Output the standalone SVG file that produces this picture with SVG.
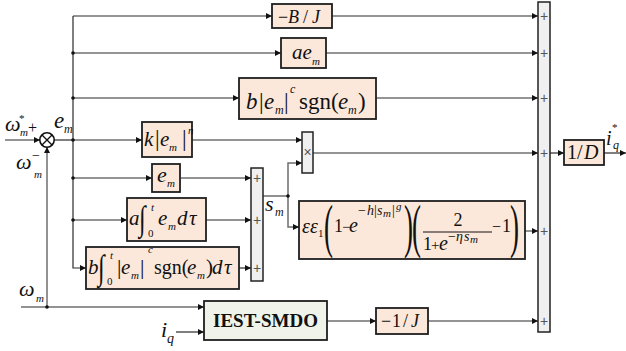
<svg xmlns="http://www.w3.org/2000/svg" width="626" height="351" viewBox="0 0 626 351">
<style>
.bx{fill:#fce8da;stroke:#1e1e1e;stroke-width:1.8}
.gb{fill:#eff3e9;stroke:#1e1e1e;stroke-width:1.8}
.sb{fill:#f0f0f0;stroke:#222;stroke-width:1.5}
.ln{fill:none;stroke:#2a2a2a;stroke-width:1.2}
.lg{fill:none;stroke:#6e6e6e;stroke-width:1.5}
text{font-family:"Liberation Serif","DejaVu Serif",serif;fill:#111}
.i{font-style:italic}
.u{font-style:normal}
.pl{font-family:"Liberation Sans","DejaVu Sans",sans-serif;font-size:14px;fill:#555;text-anchor:middle}
</style>
<defs>
<marker id="a" viewBox="0 0 10 10" refX="10" refY="5" markerWidth="8" markerHeight="6" orient="auto" markerUnits="userSpaceOnUse"><path d="M0,0 L10,5 L0,10 z" fill="#111"/></marker>
</defs>

<g id="connectors">
<path class="ln" d="M5,140 H40" marker-end="url(#a)"/>
<path class="lg" d="M47,307 V147" marker-end="url(#a)"/>
<path class="ln" d="M54,140 H73"/>
<path class="ln" d="M73,16 V268 H86" marker-end="url(#a)"/>
<path class="ln" d="M73,16 H272" marker-end="url(#a)"/>
<path class="ln" d="M73,53 H281" marker-end="url(#a)"/>
<path class="ln" d="M73,98 H239" marker-end="url(#a)"/>
<path class="ln" d="M73,140 H142" marker-end="url(#a)"/>
<path class="ln" d="M73,178 H152" marker-end="url(#a)"/>
<path class="ln" d="M73,220 H127" marker-end="url(#a)"/>
<path class="ln" d="M192,140 H302" marker-end="url(#a)"/>
<path class="lg" d="M181,178 H251" marker-end="url(#a)"/>
<path class="lg" d="M206,220 H251" marker-end="url(#a)"/>
<path class="ln" d="M239,268 H251" marker-end="url(#a)"/>
<path class="lg" d="M263,196 H288 V163 H302" marker-end="url(#a)"/>
<path class="lg" d="M288,196 V227 H299" marker-end="url(#a)"/>
<path class="ln" d="M313,153 H538" marker-end="url(#a)"/>
<path class="ln" d="M332,16 H538" marker-end="url(#a)"/>
<path class="ln" d="M326,53 H538" marker-end="url(#a)"/>
<path class="ln" d="M376,98 H538" marker-end="url(#a)"/>
<path class="lg" d="M525,231 H538" marker-end="url(#a)"/>
<path class="lg" d="M21,307 H204" marker-end="url(#a)"/>
<path class="ln" d="M176,332 H204" marker-end="url(#a)"/>
<path class="lg" d="M327,321 H376" marker-end="url(#a)"/>
<path class="ln" d="M428,321 H538" marker-end="url(#a)"/>
<path class="ln" d="M550,153 H564" marker-end="url(#a)"/>
<path class="ln" d="M604,153 H626" marker-end="url(#a)"/>
<g fill="#111">
<circle cx="73" cy="53" r="1.8"/><circle cx="73" cy="98" r="1.8"/><circle cx="73" cy="140" r="1.8"/>
<circle cx="73" cy="178" r="1.8"/><circle cx="73" cy="220" r="1.8"/><circle cx="288" cy="196" r="1.8"/>
<circle cx="47" cy="307" r="1.8"/>
</g>
</g>

<g id="sumjunction">
<circle cx="47" cy="140" r="7.2" fill="#fff" stroke="#111" stroke-width="1.6"/>
<path d="M42,135 L52,145 M52,135 L42,145" stroke="#111" stroke-width="1.4"/>
</g>

<g id="labels">
<text class="i" font-size="22"><tspan x="5" y="131">ω</tspan><tspan x="20" y="136" font-size="11">m</tspan><tspan x="19" y="122" font-size="11" class="u">*</tspan></text>
<text class="u" x="28" y="133" font-size="16">+</text>
<text class="i" font-size="23"><tspan x="54" y="128">e</tspan><tspan x="64" y="133" font-size="12">m</tspan></text>
<text class="i" font-size="22"><tspan x="16" y="169">ω</tspan><tspan x="32" y="160" font-size="14" class="u">−</tspan><tspan x="34" y="178" font-size="11">m</tspan></text>
<text class="i" font-size="22"><tspan x="19" y="296">ω</tspan><tspan x="36" y="302" font-size="11">m</tspan></text>
<text class="i" font-size="22"><tspan x="161" y="337">i</tspan><tspan x="167" y="343" font-size="14">q</tspan></text>
<text class="i" font-size="20"><tspan x="606" y="145">i</tspan><tspan x="612" y="131" font-size="11" class="u">*</tspan><tspan x="613" y="149" font-size="12">q</tspan></text>
<text class="i" font-size="22"><tspan x="265" y="211">s</tspan><tspan x="275" y="216" font-size="12">m</tspan></text>
</g>

<g id="nBJ">
<rect class="bx" x="272" y="4" width="60" height="24"/>
<text font-size="18" y="23"><tspan x="278" class="u">−</tspan><tspan x="288" class="i">B</tspan><tspan x="303" class="u">/</tspan><tspan x="312" class="i">J</tspan></text>
</g>

<g id="nAE">
<rect class="bx" x="281" y="38" width="45" height="30"/>
<text class="i" font-size="21"><tspan x="292" y="59">ae</tspan><tspan x="312" y="65" font-size="11">m</tspan></text>
</g>

<g id="nBsgn">
<rect class="bx" x="239" y="78" width="137" height="41"/>
<text font-size="23" y="109"><tspan x="246" class="i">b</tspan><tspan x="259" class="u">|</tspan><tspan x="264" class="i">e</tspan><tspan x="275" y="114" font-size="12" class="i">m</tspan><tspan x="284" y="109" class="u">|</tspan><tspan x="290" y="93" font-size="12" class="i">c</tspan><tspan x="299" y="109" class="u">sgn(</tspan><tspan x="338" class="i">e</tspan><tspan x="348" y="114" font-size="12" class="i">m</tspan><tspan x="358" y="109" class="u">)</tspan></text>
</g>

<g id="nK">
<rect class="bx" x="142" y="122" width="50" height="35"/>
<text font-size="21" y="146"><tspan x="144" class="i">k</tspan><tspan x="155" class="u" font-size="23">|</tspan><tspan x="160" class="i">e</tspan><tspan x="169" y="151" font-size="11" class="i">m</tspan><tspan x="182" y="146" class="u" font-size="23">|</tspan><tspan x="188" y="134" font-size="11" class="i">n</tspan></text>
</g>

<g id="nE">
<rect class="bx" x="152" y="164" width="28" height="28"/>
<text class="i" font-size="22"><tspan x="157" y="182">e</tspan><tspan x="167" y="187" font-size="11">m</tspan></text>
</g>

<g id="nAint">
<rect class="bx" x="127" y="198" width="79" height="43"/>
<text font-size="21" y="225"><tspan x="129" class="i">a</tspan></text>
<text class="u" font-size="24" transform="translate(139,230) scale(1,1.45)">∫</text>
<text font-size="21" y="225"><tspan x="151" y="211" font-size="11" class="i">t</tspan><tspan x="148" y="237" font-size="11" class="u">0</tspan><tspan x="158" y="225" class="i">e</tspan><tspan x="168" y="230" font-size="11" class="i">m</tspan><tspan x="177" y="225" class="i">d</tspan><tspan x="189" y="225" class="i">τ</tspan></text>
</g>

<g id="nBint">
<rect class="bx" x="86" y="247" width="153" height="42"/>
<text font-size="21" y="274"><tspan x="88" class="i">b</tspan></text>
<text class="u" font-size="24" transform="translate(98,279) scale(1,1.45)">∫</text>
<text font-size="21" y="274"><tspan x="110" y="259" font-size="11" class="i">t</tspan><tspan x="107" y="285" font-size="11" class="u">0</tspan><tspan x="117" y="274" class="u" font-size="22">|</tspan><tspan x="121" class="i">e</tspan><tspan x="131" y="279" font-size="11" class="i">m</tspan><tspan x="140" y="274" class="u" font-size="22">|</tspan><tspan x="148" y="253" font-size="11" class="i">c</tspan><tspan x="154" y="274" font-size="20" class="u">sgn(</tspan><tspan x="187" class="i">e</tspan><tspan x="197" y="279" font-size="11" class="i">m</tspan><tspan x="206" y="274" class="u">)</tspan><tspan x="212" class="i">d</tspan><tspan x="224" class="i">τ</tspan></text>
</g>

<g id="nEps">
<rect class="bx" x="299" y="201" width="226" height="58"/>
<text class="i" font-size="20"><tspan x="302" y="233">ε</tspan><tspan x="310" y="233">ε</tspan><tspan x="318" y="237" font-size="11" class="u">1</tspan></text>
<text class="u" font-size="60" transform="translate(324,246) scale(0.45,1)">(</text>
<text font-size="18" y="232"><tspan x="334" class="u">1</tspan><tspan x="342" class="u" font-size="15">−</tspan><tspan x="349" class="i" font-size="20">e</tspan></text>
<text font-size="14" y="215"><tspan x="358" class="u">−</tspan><tspan x="367" class="i">h</tspan><tspan x="374" class="u">|</tspan><tspan x="377" class="i">s</tspan><tspan x="383" y="217" class="i" font-size="11">m</tspan><tspan x="392" y="215" class="u">|</tspan><tspan x="396" y="210" class="i" font-size="11">g</tspan></text>
<text class="u" font-size="60" transform="translate(404,246) scale(0.45,1)">)</text>
<text class="u" font-size="60" transform="translate(412,246) scale(0.45,1)">(</text>
<text class="u" font-size="18" x="458" y="226" text-anchor="middle">2</text>
<line x1="423" y1="232" x2="492" y2="232" stroke="#111" stroke-width="1"/>
<text font-size="18" y="250"><tspan x="423" class="u">1</tspan><tspan x="431" class="u" font-size="15">+</tspan><tspan x="439" class="i" font-size="20">e</tspan></text>
<text font-size="14" y="241"><tspan x="448" class="u">−</tspan><tspan x="456" class="i">η</tspan><tspan x="464" class="i">s</tspan><tspan x="470" y="243" class="i" font-size="11">m</tspan></text>
<text font-size="18" y="232"><tspan x="492" class="u" font-size="16">−</tspan><tspan x="502" class="u">1</tspan></text>
<text class="u" font-size="60" transform="translate(510,246) scale(0.45,1)">)</text>
</g>

<g id="nMul">
<rect class="sb" x="302" y="132" width="11" height="41"/>
<text class="pl" x="307.5" y="157" font-size="12">×</text>
</g>

<g id="nSumSmall">
<rect class="sb" x="251" y="168" width="12" height="113"/>
<text class="pl" x="257" y="183">+</text>
<text class="pl" x="257" y="225">+</text>
<text class="pl" x="257" y="273">+</text>
</g>

<g id="nSumBig">
<rect class="sb" x="538" y="2" width="12" height="330"/>
<text class="pl" x="544" y="21">+</text>
<text class="pl" x="544" y="58">+</text>
<text class="pl" x="544" y="103">+</text>
<text class="pl" x="544" y="158">+</text>
<text class="pl" x="544" y="236">+</text>
<text class="pl" x="544" y="326">+</text>
</g>

<g id="nD">
<rect class="bx" x="564" y="140" width="40" height="25"/>
<text font-size="20" y="159"><tspan x="567" class="u">1</tspan><tspan x="577" class="u">/</tspan><tspan x="584" class="i">D</tspan></text>
</g>

<g id="nJ">
<rect class="bx" x="376" y="308" width="52" height="26"/>
<text font-size="18" y="327"><tspan x="381" class="u">−</tspan><tspan x="392" class="u">1</tspan><tspan x="403" class="u">/</tspan><tspan x="411" class="i">J</tspan></text>
</g>

<g id="nSMDO">
<rect class="gb" x="204" y="301" width="123" height="39"/>
<text x="265.5" y="327" font-size="19" font-weight="bold" text-anchor="middle">IEST-SMDO</text>
</g>
</svg>
